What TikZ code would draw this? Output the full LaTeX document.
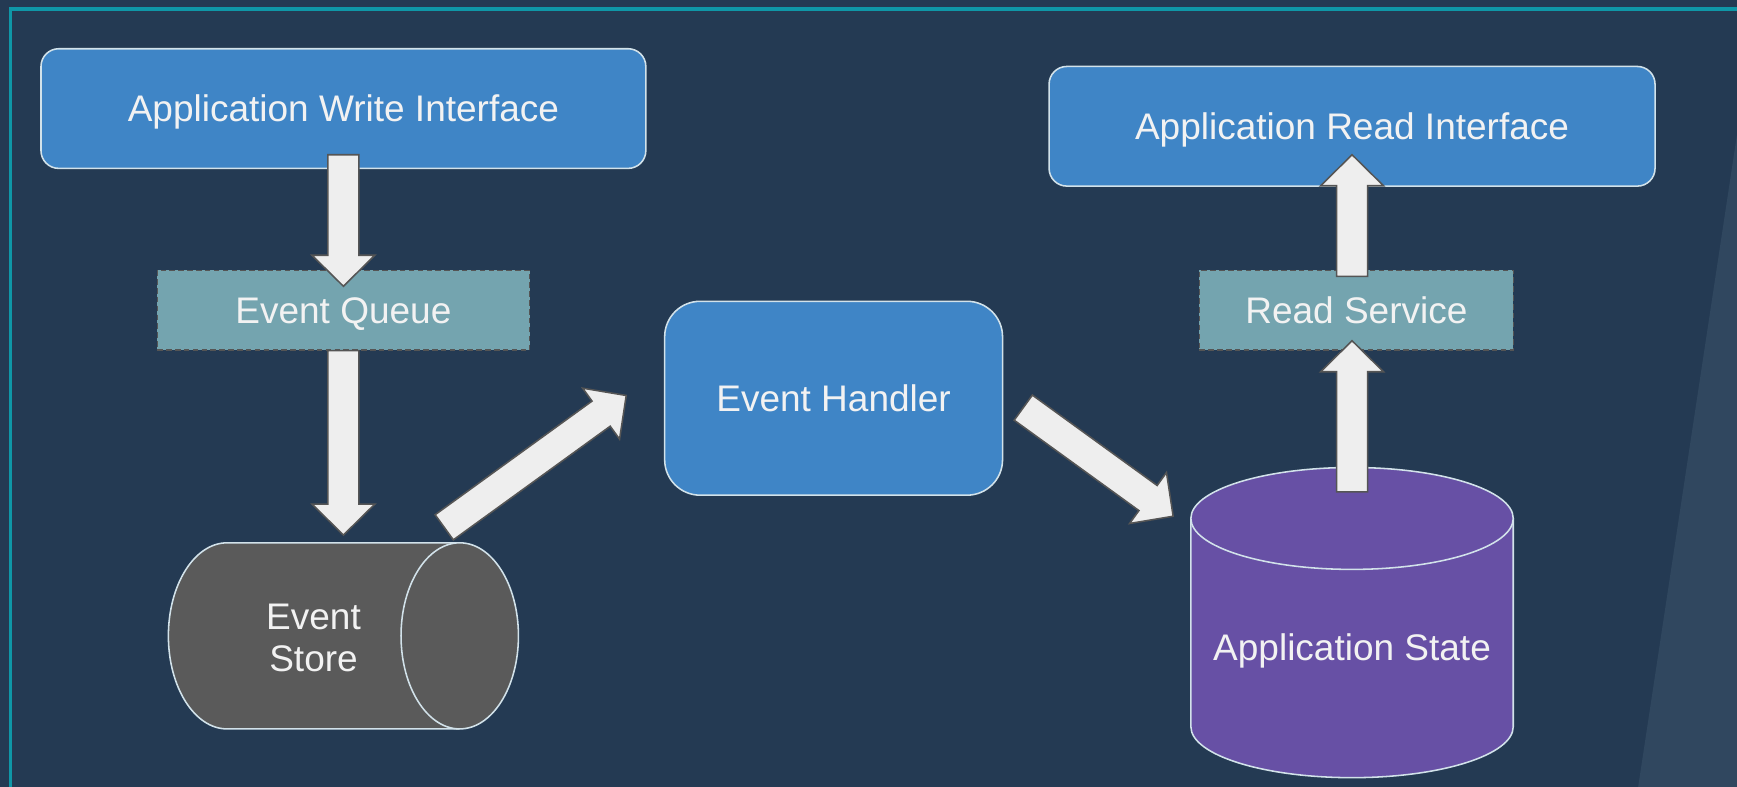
\documentclass[tikz,border=0pt]{standalone}
\usepackage{fontspec}
\setmainfont{Liberation Sans}
\usetikzlibrary{calc}

\definecolor{bgnavy}{HTML}{243A53}
\definecolor{panelnavy}{HTML}{30475F}
\definecolor{frameteal}{HTML}{0F97A7}
\definecolor{boxblue}{HTML}{3F85C6}
\definecolor{boxedge}{HTML}{D2E2EA}
\definecolor{queuefill}{HTML}{74A4AF}
\definecolor{queueedge}{HTML}{555555}
\definecolor{arrowfill}{HTML}{EEEEEE}
\definecolor{arrowline}{HTML}{555555}
\definecolor{storefill}{HTML}{5A5A5A}
\definecolor{statefill}{HTML}{6750A5}
\definecolor{labeltext}{HTML}{F2F2F2}

\tikzset{
  bluebox/.style={rounded corners=8pt, fill=boxblue, draw=boxedge, line width=0.7pt,
    text=labeltext, inner sep=0pt, text depth=0pt},
  servicebox/.style={fill=queuefill, draw=queueedge, line width=0.6pt,
    dash pattern=on 2.5pt off 1.5pt, text=labeltext, inner sep=0pt, text depth=0pt},
  tanklabel/.style={text=labeltext, inner sep=0pt, align=center},
  tankline/.style={draw=boxedge, line width=0.7pt},
  blockarrow/.style={fill=arrowfill, draw=arrowline, line width=0.7pt, line join=miter}
}

% wide block arrow from the first named point to the second
\newcommand\blockconn[2]{%
  \coordinate (bc-h) at ($(#2)!14pt!(#1)$);
  \path[blockarrow]
    ($(#1)!7pt!90:(#2)$) -- ($(bc-h)!7pt!-90:(#1)$) -- ($(bc-h)!14.2pt!-90:(#1)$)
    -- (#2)
    -- ($(bc-h)!14.2pt!90:(#1)$) -- ($(bc-h)!7pt!90:(#1)$) -- ($(#1)!7pt!-90:(#2)$) -- cycle;}

\begin{document}
\begin{tikzpicture}[x=0.5pt, y=-0.5pt, font=\fontsize{16.7}{19}\selectfont]
  \useasboundingbox (0,0) rectangle (1568,710);
  \fill[bgnavy] (0,0) rectangle (1568,710);
  \fill[panelnavy] (1568.5,118) -- (1478.5,712) -- (1570,712) -- (1570,118) -- cycle;
  \draw[frameteal, line width=1.5pt] (9.5,714) -- (9.5,8.2) -- (1572,8.2);

  % write side
  \node[bluebox, minimum width=273pt, minimum height=54pt] (write) at (310,98)
    {Application Write Interface};
  \node[servicebox, minimum width=168pt, minimum height=36pt] (queue) at (310,280)
    {Event Queue};

  % event store, lying on its side
  \coordinate (storecap) at (415,574);
  \coordinate (storecap-n) at (415,490);
  \coordinate (store-n) at (310,490);
  \path[fill=storefill] (415,490) -- (205,490)
    arc[start angle=90, end angle=270, x radius=26.5pt, y radius=42pt] -- (415,658) -- cycle;
  \path[tankline] (415,490) -- (205,490)
    arc[start angle=90, end angle=270, x radius=26.5pt, y radius=42pt] -- (415,658);
  \path[fill=storefill, tankline] (storecap) ellipse[x radius=26.5pt, y radius=42pt];
  \node[tanklabel] (store) at (283,576) {Event\\Store};

  % handler
  \node[bluebox, rounded corners=16pt, minimum width=152.5pt, minimum height=87.5pt]
    (handler) at (752.5,359.5) {Event Handler};

  % read side
  \node[bluebox, minimum width=273.5pt, minimum height=54pt] (readif) at (1220.5,114)
    {Application Read Interface};
  \node[servicebox, minimum width=141.7pt, minimum height=36pt] (service) at (1224.4,280)
    {Read Service};

  % application state, standing upright
  \coordinate (state-n) at (1220.5,422);
  \coordinate (state-nw) at (1075,468);
  \path[fill=statefill] (1075,468) -- (1075,656)
    arc[start angle=180, end angle=360, x radius=72.75pt, y radius=23pt] -- (1366,468) -- cycle;
  \path[tankline] (1075,468) -- (1075,656)
    arc[start angle=180, end angle=360, x radius=72.75pt, y radius=23pt] -- (1366,468);
  \path[fill=statefill, tankline] (1220.5,468) ellipse[x radius=72.75pt, y radius=23pt];
  \node[tanklabel] (state) at (1220.5,588) {Application State};

  % arrow end points
  \coordinate (a1s) at ($(write.south)+(0,-13)$);
  \coordinate (a1e) at ($(queue.north)+(0,15)$);
  \coordinate (a2s) at (queue.south);
  \coordinate (a2e) at ($(store-n)+(0,-7)$);
  \coordinate (a3s) at ($(storecap-n)+(-14,-14)$);
  \coordinate (a3e) at ($(handler.west)+(-34,-2.5)$);
  \coordinate (a4s) at ($(handler.east)+(18,8.5)$);
  \coordinate (a4e) at ($(state-nw)+(-16,-2)$);
  \coordinate (a5s) at ($(state-n)+(0,22)$);
  \coordinate (svc-s) at (a5s |- service.south);
  \coordinate (a5e) at ($(svc-s)+(0,-9)$);
  \coordinate (svc-n) at (a5s |- service.north);
  \coordinate (a6s) at ($(svc-n)+(0,6)$);
  \coordinate (rif-s) at (a5s |- readif.south);
  \coordinate (a6e) at ($(rif-s)+(0,-29)$);

  \blockconn{a1s}{a1e}
  \blockconn{a2s}{a2e}
  \blockconn{a3s}{a3e}
  \blockconn{a4s}{a4e}
  \blockconn{a5s}{a5e}
  \blockconn{a6s}{a6e}
\end{tikzpicture}
\end{document}
